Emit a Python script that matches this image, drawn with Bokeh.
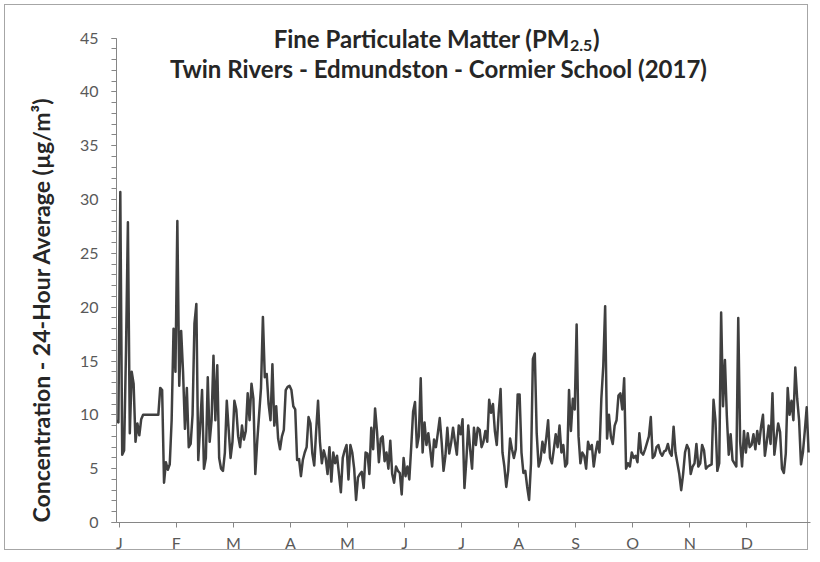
from bokeh.plotting import figure
from bokeh.models import Range1d, FixedTicker, Label, Title
from bokeh.embed import file_html
from bokeh.resources import INLINE

# Daily 24-hour average PM2.5 (µg/m³), 2017
jan = [9.5, 9.3, 30.7, 6.3, 6.7, 16.0, 27.9, 8.3, 14.0, 12.9, 7.5, 9.2, 8.1, 9.6,
       10.0, 10.0, 10.0, 10.0, 10.0, 10.0, 10.0, 10.0, 10.0,
       12.5, 12.3, 3.7, 5.6, 4.9, 5.4, 9.5, 18.0]
feb = [14.0, 28.0, 12.7, 17.8, 14.0, 8.7, 12.5, 7.0, 7.3, 10.0, 18.5, 20.3, 5.8, 9.0,
       12.3, 5.0, 6.0, 13.5, 7.5, 9.5, 15.5, 9.5, 14.6, 6.0, 5.0, 4.8, 6.5, 11.3]
mar = [8.6, 6.0, 7.5, 11.3, 10.5, 8.0, 7.0, 9.0, 7.7, 8.5, 12.0, 9.5, 12.9, 11.5, 4.5,
       7.5, 10.0, 12.5, 19.1, 13.5, 13.8, 11.0, 9.5, 14.7, 9.0, 10.8, 7.8, 6.8, 8.0, 8.6, 12.3]
apr = [12.6, 12.7, 12.3, 10.8, 10.5, 5.8, 5.9, 4.3, 5.8, 6.5, 7.0, 9.8, 9.2, 6.4, 5.3,
       8.5, 11.3, 7.5, 5.5, 6.7, 6.0, 4.5, 7.0, 3.8, 6.5, 5.5, 6.2, 4.5, 2.8, 6.0]
may = [6.7, 7.2, 4.0, 7.2, 6.5, 5.0, 2.1, 4.2, 4.5, 4.7, 3.2, 6.5, 6.4, 4.5, 8.8, 6.8,
       10.6, 8.5, 5.6, 7.8, 8.0, 5.7, 6.5, 5.0, 7.6, 4.5, 3.7, 5.2, 4.8, 4.6, 2.6]
jun = [6.0, 4.3, 5.2, 4.0, 7.0, 10.3, 11.2, 7.0, 8.0, 13.4, 6.5, 9.3, 7.2, 8.3, 6.8,
       5.2, 7.7, 7.0, 8.3, 9.7, 7.5, 4.8, 6.2, 8.8, 6.4, 7.4, 8.8, 7.5, 6.3, 9.0]
jul = [8.2, 9.6, 3.2, 5.8, 9.0, 6.8, 5.0, 8.8, 7.2, 8.8, 8.6, 7.0, 7.5, 8.5, 7.5, 11.4,
       10.2, 11.0, 8.5, 7.2, 10.2, 12.4, 6.5, 5.2, 3.3, 4.8, 7.8, 6.8, 6.0, 6.8, 11.9]
aug = [11.9, 6.5, 4.6, 4.8, 3.3, 2.1, 5.5, 15.2, 15.7, 8.3, 5.2, 5.8, 7.5, 6.5, 7.8,
       9.5, 6.0, 5.5, 6.8, 8.2, 7.0, 9.0, 6.5, 7.2, 5.2, 5.5, 12.3, 8.5, 11.5, 10.5, 18.4]
sep = [8.0, 5.5, 6.5, 6.2, 5.0, 7.5, 6.8, 7.2, 5.2, 6.5, 7.5, 6.5, 11.5, 14.5, 20.1,
       7.8, 10.0, 8.0, 7.3, 9.0, 9.5, 11.8, 12.0, 10.5, 13.4, 5.0, 5.5, 5.2, 6.5, 6.0]
oct_ = [6.2, 5.6, 8.3, 6.5, 6.3, 6.8, 7.4, 8.0, 9.8, 6.0, 6.2, 7.0, 7.2, 6.5, 6.2, 6.6,
        6.7, 7.3, 6.5, 6.2, 8.9, 6.5, 5.5, 4.5, 3.0, 4.5, 6.5, 7.2, 6.8, 4.5, 5.2]
nov = [5.5, 7.3, 5.2, 5.5, 7.2, 6.7, 5.0, 5.2, 5.3, 5.4, 11.4, 9.5, 4.8, 5.5, 19.5,
       10.8, 15.1, 9.9, 6.3, 8.2, 5.8, 5.5, 5.2, 19.0, 7.5, 5.2, 8.5, 6.5, 8.3, 7.0]
dec = [7.2, 8.2, 6.8, 8.5, 7.3, 8.9, 10.0, 6.2, 7.5, 9.0, 7.3, 12.0, 6.3, 7.8, 9.2,
       8.4, 5.0, 4.6, 6.4, 12.5, 10.0, 11.3, 9.5, 14.4, 11.5, 9.5, 5.4, 6.5, 8.5, 10.7, 6.5]

values = jan + feb + mar + apr + may + jun + jul + aug + sep + oct_ + nov + dec
days = list(range(len(values)))

month_labels = ["J", "F", "M", "A", "M", "J", "J", "A", "S", "O", "N", "D"]
y_ticks = [0, 5, 10, 15, 20, 25, 30, 35, 40, 45]

title_line1 = "Fine Particulate Matter (PM"
title_sub = "2.5"
title_line2 = "Twin Rivers - Edmundston - Cormier School (2017)"
y_label = "Concentration - 24-Hour Average (µg/m³)"

FONT = "Lato"
TXT = "#595959"
AX = "#868686"
DARK = "#262626"

p = figure(width=812, height=554, output_backend="svg", toolbar_location=None,
           x_range=Range1d(0, 365), y_range=Range1d(0, 48.4),
           min_border_left=116, min_border_right=2, min_border_top=1,
           min_border_bottom=30,
           styles={"outline": "1px solid #a6a6a6", "outline-offset": "-5px"})
p.xgrid.visible = False
p.ygrid.visible = False
p.outline_line_color = None
p.background_fill_color = None
p.border_fill_color = None

p.line(days, values, line_color="#404040", line_width=2.5, line_join="round")

# x axis
tick_pos = [1.5 + 30 * k for k in range(len(month_labels))]
p.xaxis.ticker = FixedTicker(ticks=tick_pos)
p.xaxis.major_label_overrides = {t: m for t, m in zip(tick_pos, month_labels)}
p.xaxis.axis_line_color = AX
p.xaxis.major_tick_line_color = AX
p.xaxis.major_tick_out = 5
p.xaxis.major_tick_in = 0
p.xaxis.minor_tick_line_color = None
p.xaxis.major_label_text_font = FONT
p.xaxis.major_label_text_font_size = "16px"
p.xaxis.major_label_text_color = TXT
p.xaxis.major_label_standoff = 5

# y axis (ticks and numbers)
p.yaxis.bounds = (0, 45)
p.yaxis.ticker = FixedTicker(ticks=y_ticks, minor_ticks=list(range(0, 46)))
p.yaxis.axis_line_color = AX
p.yaxis.major_tick_line_color = AX
p.yaxis.minor_tick_line_color = AX
p.yaxis.major_tick_out = 5
p.yaxis.major_tick_in = 0
p.yaxis.minor_tick_out = 5
p.yaxis.minor_tick_in = 0
p.yaxis.major_label_text_font = FONT
p.yaxis.major_label_text_font_size = "16px"
p.yaxis.major_label_text_color = TXT
p.yaxis.major_label_standoff = 13

# y axis title: a side title, so that it can start at the foot of the axis as in the original
p.add_layout(Title(text=y_label, align="left", offset=0, standoff=44,
                   text_font=FONT, text_font_size="23px", text_font_style="bold",
                   text_color=DARK), "left")

# chart title (drawn as labels so that "2.5" can be a subscript)
anchor_x = 238.5
p.add_layout(Label(x=anchor_x, y=45.0, text=title_line1, text_align="right",
                   text_baseline="middle", text_font=FONT, text_font_size="24px",
                   text_font_style="bold", text_color=DARK))
p.add_layout(Label(x=anchor_x, y=44.3, text=title_sub, text_align="left",
                   text_baseline="middle", text_font=FONT, text_font_size="16px",
                   text_font_style="bold", text_color=DARK))
p.add_layout(Label(x=anchor_x, y=45.0, x_offset=23, text=")", text_align="left",
                   text_baseline="middle", text_font=FONT, text_font_size="24px",
                   text_font_style="bold", text_color=DARK))
p.add_layout(Label(x=169.5, y=42.2, text=title_line2, text_align="center",
                   text_baseline="middle", text_font=FONT, text_font_size="24px",
                   text_font_style="bold", text_color=DARK))

open("out.html", "w").write(file_html(p, INLINE))
